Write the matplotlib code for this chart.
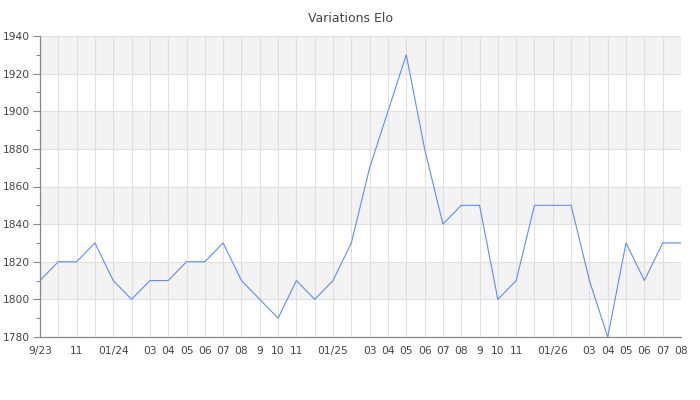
import numpy as np
import matplotlib
matplotlib.use("Agg")
import matplotlib.pyplot as plt
from matplotlib.ticker import MultipleLocator

# mois de sept. 2023 a aout 2026
months = ["2023-09", "2023-10", "2023-11", "2023-12",
          "2024-01", "2024-02", "2024-03", "2024-04", "2024-05", "2024-06",
          "2024-07", "2024-08", "2024-09", "2024-10", "2024-11", "2024-12",
          "2025-01", "2025-02", "2025-03", "2025-04", "2025-05", "2025-06",
          "2025-07", "2025-08", "2025-09", "2025-10", "2025-11", "2025-12",
          "2026-01", "2026-02", "2026-03", "2026-04", "2026-05", "2026-06",
          "2026-07", "2026-08"]

elo = [1810, 1820, 1820, 1830, 1810, 1800, 1810, 1810, 1820, 1820,
       1830, 1810, 1800, 1790, 1810, 1800, 1810, 1830, 1870, 1900,
       1930, 1880, 1840, 1850, 1850, 1800, 1810, 1850, 1850, 1850,
       1810, 1780, 1830, 1810, 1830, 1830]

tick_labels = ["9/23", "", "11", "", "01/24", "", "03", "04", "05", "06",
               "07", "08", "9", "10", "11", "", "01/25", "", "03", "04",
               "05", "06", "07", "08", "9", "10", "11", "", "01/26", "",
               "03", "04", "05", "06", "07", "08"]

y_min, y_max = 1780, 1940

fig = plt.figure(figsize=(7, 4), dpi=100)
ax = fig.add_axes([40 / 700, 1 - 337 / 400, 641 / 700, 301 / 400])

x = np.arange(len(months))

# bandes grises alternees
for lo in range(y_min, y_max, 20):
    if ((lo - y_min) // 20) % 2 == 1:
        ax.axhspan(lo, lo + 20, color="#f3f3f3", zorder=0, lw=0)

ax.plot(x, elo, color="#5b8ff0", lw=0.8, zorder=3)

ax.set_xlim(0, len(months) - 1)
ax.set_ylim(y_min, y_max)
ax.set_xticks(x)
ax.set_xticklabels(tick_labels)
ax.yaxis.set_major_locator(MultipleLocator(20))
ax.yaxis.set_minor_locator(MultipleLocator(10))

ax.grid(True, which="major", color="#e0e0e0", lw=0.8, zorder=1)
ax.set_axisbelow(True)

for side in ["top", "right"]:
    ax.spines[side].set_visible(False)
for side in ["left", "bottom"]:
    ax.spines[side].set_color("#888888")
    ax.spines[side].set_linewidth(0.9)

ax.tick_params(axis="x", length=0, pad=6.5, labelsize=7.7, labelcolor="#444444")
ax.tick_params(axis="y", which="major", length=5, width=0.8, color="#888888",
               labelsize=7.7, labelcolor="#444444", pad=2)
ax.tick_params(axis="y", which="minor", length=3, width=0.8, color="#888888")

fig.suptitle("Variations Elo", y=0.97, fontsize=9, color="#444444")

plt.savefig("out.png", dpi=100)
plt.close()
